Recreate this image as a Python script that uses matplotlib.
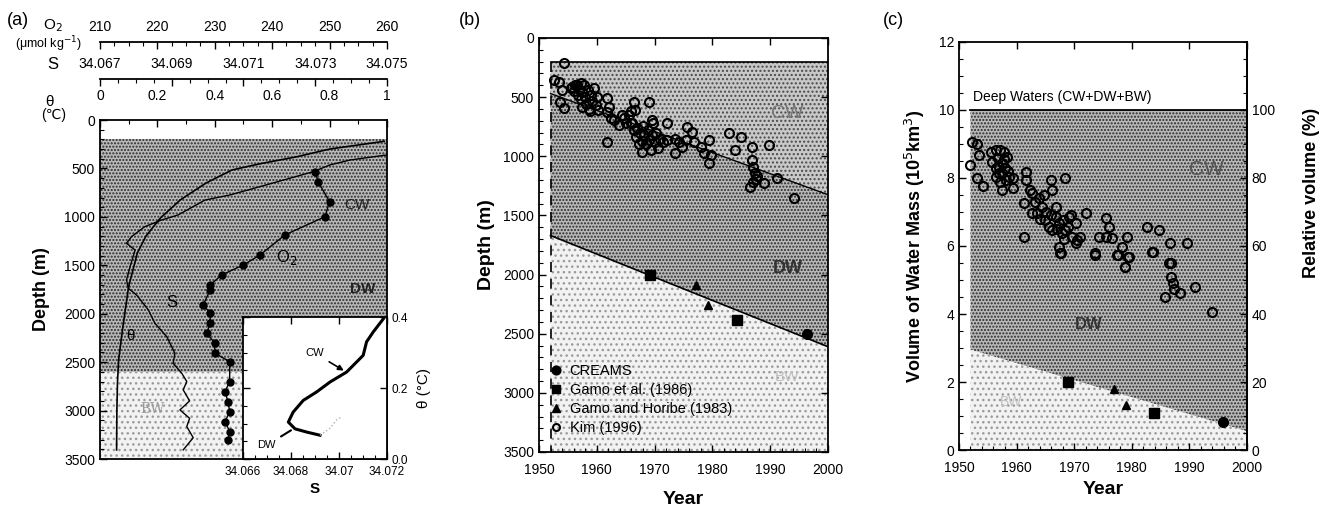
import numpy as np
import matplotlib
matplotlib.use("Agg")
import matplotlib.pyplot as plt
from matplotlib.ticker import MultipleLocator, FixedLocator

plt.rcParams['font.family'] = ['Liberation Sans', 'DejaVu Sans']
plt.rcParams['hatch.linewidth'] = 1.0

# ---------------- data: panel (a) profiles ----------------
theta_depth = [220, 300, 380, 450, 516, 650, 825, 1014, 1200, 1376, 1720, 2133, 2477, 2718, 3000, 3406]
theta_val = [0.99, 0.80, 0.685, 0.56, 0.46, 0.37, 0.28, 0.21, 0.16, 0.13, 0.10, 0.08, 0.065, 0.061, 0.059, 0.058]

sal_depth = [361, 413, 464, 534, 688, 774, 826, 980, 1032, 1101, 1204, 1273, 1342, 1514, 1651,
             1737, 1806, 1961, 2098, 2236, 2408, 2511, 2614, 2700, 2786, 2900, 2993, 3080, 3165, 3280, 3406]
sal_val = [34.07499, 34.07397, 34.07341, 34.07294, 34.07146, 34.07062, 34.06993, 34.06918, 34.06872,
           34.06825, 34.06788, 34.06774, 34.06798, 34.06784, 34.06774, 34.06779, 34.06802, 34.06835,
           34.06853, 34.06886, 34.06909, 34.06904, 34.06928, 34.06942, 34.06932, 34.06950, 34.06923,
           34.06950, 34.06942, 34.06960, 34.06932]

o2_depth = [533, 636, 843, 998, 1187, 1393, 1496, 1600, 1703, 1754, 1909, 1995, 2098, 2201, 2304,
            2408, 2494, 2700, 2804, 2907, 3010, 3114, 3217, 3302]
o2_val = [247.5, 248.0, 250.0, 249.2, 242.2, 237.9, 235.0, 231.2, 229.2, 229.2, 228.0, 229.2, 229.2,
          228.6, 230.0, 230.0, 232.6, 232.6, 231.8, 232.3, 232.6, 231.8, 232.6, 232.3]

# inset theta-S diagram
ts_sal = [34.07185, 34.07143, 34.07115, 34.07101, 34.07032, 34.06963, 34.06907, 34.06851, 34.06809,
          34.06789, 34.06817, 34.06865, 34.06921]
ts_theta = [0.395, 0.358, 0.330, 0.292, 0.245, 0.217, 0.189, 0.165, 0.132, 0.104, 0.085, 0.076, 0.067]
ts_bw_sal = [34.06921, 34.06960, 34.06990, 34.07010]
ts_bw_theta = [0.067, 0.085, 0.110, 0.118]

# ---------------- data: panel (b) ----------------
b_kim_year = [1954.3, 1952.6, 1953.5, 1954.0, 1953.7, 1954.3, 1955.8, 1956.3, 1957.2,
              1955.5, 1956.0, 1956.5, 1956.8, 1957.0, 1957.2, 1957.5, 1957.8, 1958.0, 1958.2,
              1958.5, 1958.7, 1959.0, 1959.2, 1959.5, 1959.8, 1960.0, 1960.3, 1957.5, 1958.8,
              1961.8, 1962.1, 1961.8, 1963.0, 1963.8, 1962.4, 1964.4, 1961.8, 1966.4, 1966.7,
              1969.0, 1966.1, 1965.5, 1964.8, 1965.0, 1966.0,
              1966.0, 1966.5, 1966.8, 1967.0, 1967.3, 1967.5, 1967.8, 1968.0, 1968.2, 1968.5,
              1968.8, 1969.0, 1969.3, 1969.5, 1969.8, 1970.0, 1970.3, 1970.6, 1971.0, 1971.5,
              1967.9, 1969.6, 1972.2, 1972.2, 1973.6, 1974.2, 1974.8, 1973.6, 1975.7, 1976.5,
              1976.8, 1975.4, 1978.0, 1978.5, 1979.4, 1979.7, 1979.4, 1982.9, 1984.9, 1984.0,
              1986.9, 1989.8, 1986.9, 1987.0, 1987.3, 1987.6, 1986.5, 1987.0, 1987.8, 1988.9,
              1991.2, 1994.1]
b_kim_depth = [208, 355, 369, 440, 538, 595, 411, 397, 383,
               420, 450, 400, 480, 430, 520, 460, 400, 500, 560,
               440, 600, 480, 530, 420, 570, 500, 610, 580, 620,
               510, 580, 623, 693, 735, 679, 651, 876, 538, 609,
               538, 721, 650, 680, 720, 620,
               720, 780, 840, 760, 900, 800, 870, 740, 820, 900,
               780, 860, 950, 820, 720, 880, 800, 930, 850, 880,
               961, 693, 721, 862, 850, 880, 920, 975, 750, 792,
               876, 862, 919, 975, 862, 989, 1060, 806, 834, 947,
               919, 905, 1031, 1088, 1140, 1190, 1257, 1220, 1170, 1229,
               1186, 1355]

b_creams_year = [1996.4]
b_creams_depth = [2502]
b_gamo86_year = [1969.2, 1984.3]
b_gamo86_depth = [2003, 2384]
b_gamo83_year = [1977.2, 1979.2]
b_gamo83_depth = [2088, 2257]

b_line_year = [1952, 2000]
b_cw_dw_depth = [470, 1325]
b_dw_bw_depth = [1670, 2610]

# ---------------- data: panel (c) ----------------
c_kim_year = [1952.0, 1952.3, 1953.2, 1953.5, 1953.2, 1954.1, 1955.5,
              1956.4, 1957.2, 1957.8, 1958.4, 1955.8, 1956.9, 1957.5, 1956.4, 1957.2, 1958.7,
              1959.3, 1957.5, 1959.3, 1956.8, 1957.4, 1958.0, 1957.0, 1958.2, 1956.5, 1957.8,
              1958.6, 1961.6, 1961.6, 1961.3, 1962.4, 1961.3, 1962.7, 1963.9, 1965.9, 1966.2,
              1968.5, 1963.6, 1964.5, 1965.0, 1965.6, 1966.2, 1966.8, 1967.4, 1967.9, 1966.8,
              1968.5, 1969.1, 1969.7, 1970.3, 1970.5, 1967.4, 1967.7, 1970.3, 1971.1, 1966.0,
              1967.0, 1968.0, 1969.0, 1968.3, 1969.5, 1965.2, 1964.0, 1963.2, 1962.7, 1964.7,
              1972.0, 1973.7, 1975.5, 1976.0, 1974.3, 1975.5, 1976.6, 1977.5, 1978.4, 1979.2,
              1979.5, 1978.9, 1982.7, 1984.7, 1983.6, 1986.7, 1989.6, 1986.5, 1967.5, 1973.6,
              1977.7, 1979.4, 1978.8, 1983.7, 1986.9, 1986.8, 1987.1, 1987.4, 1985.8, 1988.4,
              1991.0, 1993.9]
c_kim_vol = [8.38, 9.07, 9.00, 8.68, 7.99, 7.75, 8.77,
             8.82, 8.82, 8.77, 8.63, 8.48, 8.33, 8.14, 8.04, 7.89, 8.04,
             7.99, 7.65, 7.70, 8.60, 8.45, 8.30, 8.15, 7.95, 8.30, 8.55,
             8.20, 8.19, 7.94, 6.27, 7.65, 7.25, 6.96, 7.40, 7.94, 7.65,
             7.99, 6.96, 7.16, 6.76, 6.57, 6.47, 6.86, 6.67, 6.37, 7.16,
             6.47, 6.86, 6.27, 6.67, 6.18, 5.98, 5.78, 6.08, 6.27, 6.90,
             6.50, 6.75, 6.55, 6.20, 6.90, 7.00, 6.80, 7.30, 7.55, 7.50,
             6.96, 5.78, 6.81, 6.57, 6.27, 6.27, 6.23, 5.73, 5.98, 6.27,
             5.69, 5.39, 6.57, 6.47, 5.83, 6.08, 6.08, 5.49, 5.78, 5.74,
             5.74, 5.69, 5.39, 5.83, 5.49, 5.10, 4.90, 4.75, 4.51, 4.62,
             4.80, 4.07]

c_creams_year = [1995.8]
c_creams_vol = [0.82]
c_gamo86_year = [1968.9, 1983.9]
c_gamo86_vol = [2.0, 1.09]
c_gamo83_year = [1976.9, 1979.0]
c_gamo83_vol = [1.80, 1.32]

c_line_year = [1952, 2000]
c_bw_vol = [2.95, 0.55]
deep_total = 10.0

# ---------------- styles ----------------
DENSE = dict(facecolor='#b8b8b8', edgecolor='#2a2a2a', hatch='.....', linewidth=0)
MED = dict(facecolor='#c8c8c8', edgecolor='#4a4a4a', hatch='....', linewidth=0)
LIGHT = dict(facecolor='#f2f2f2', edgecolor='#9a9a9a', hatch='...', linewidth=0)


def ticks_in(ax):
    ax.tick_params(which='both', direction='in', labelsize=10)
    ax.tick_params(which='major', length=5, width=1)
    ax.tick_params(which='minor', length=3, width=0.8)


fig = plt.figure(figsize=(13.38, 5.09), dpi=100)

# ================= panel (a) =================
axa = fig.add_axes([0.0747, 0.0982, 0.2145, 0.666])
axa.set_xlim(0, 1)
axa.set_ylim(3500, 0)
axa.fill_between([0, 1], 200, 2600, zorder=0, **DENSE)
axa.fill_between([0, 1], 2600, 3500, zorder=0, **LIGHT)
axa.plot(theta_val, theta_depth, color='black', lw=1.2)
axa.set_ylabel('Depth (m)', fontsize=13, fontweight='bold', labelpad=10)
axa.yaxis.set_major_locator(MultipleLocator(500))
axa.yaxis.set_minor_locator(MultipleLocator(100))
axa.xaxis.set_major_locator(MultipleLocator(0.2))
axa.xaxis.set_minor_locator(MultipleLocator(0.1))
axa.xaxis.set_major_formatter(plt.FuncFormatter(lambda v, p: '%g' % round(v, 1)))
for s in axa.spines.values():
    s.set_linewidth(1.3)

# salinity on its own top axis
axs = axa.twiny()
axs.set_xlim(34.067, 34.075)
axs.spines['top'].set_position(('outward', 29.5))
axs.xaxis.set_major_locator(FixedLocator([34.067, 34.069, 34.071, 34.073, 34.075]))
axs.xaxis.set_minor_locator(MultipleLocator(0.0005))
axs.xaxis.set_major_formatter(plt.FuncFormatter(lambda v, p: '%.3f' % v))
ticks_in(axs)
axs.tick_params(axis='x', pad=6)
for k in ['left', 'right', 'bottom']:
    axs.spines[k].set_visible(False)
axs.spines['top'].set_linewidth(1.3)
axs.plot(sal_val, sal_depth, color='black', lw=1.0)

# oxygen on its own top axis
axo = axa.twiny()
axo.set_xlim(210, 260)
axo.spines['top'].set_position(('outward', 56))
axo.xaxis.set_major_locator(MultipleLocator(10))
axo.xaxis.set_minor_locator(MultipleLocator(2.5))
ticks_in(axo)
axo.tick_params(axis='x', pad=6)
for k in ['left', 'right', 'bottom']:
    axo.spines[k].set_visible(False)
axo.spines['top'].set_linewidth(1.3)
axo.plot(o2_val, o2_depth, color='black', lw=1.0, marker='o', ms=5)

# twiny moves ticks of the main axis to the bottom, so set them after
ticks_in(axa)
axa.tick_params(axis='x', which='both', bottom=False, top=True, labelbottom=False,
                labeltop=True, pad=12)

axa.text(0.09, 2270, 'θ', fontsize=11)
axa.text(0.23, 1930, 'S', fontsize=12)
axa.text(0.615, 1470, 'O$_2$', fontsize=12)
axa.text(0.85, 920, 'CW', fontsize=11, color='#222222')
axa.text(0.87, 1790, 'DW', fontsize=11, fontweight='bold', color='#222222')
axa.text(0.14, 3020, 'BW', fontsize=10, family='serif', color='#9a9a9a')

fig.text(0.005, 0.951, '(a)', fontsize=13)
fig.text(0.032, 0.942, 'O$_2$', fontsize=11)
fig.text(0.011, 0.905, '(μmol kg$^{-1}$)', fontsize=9)
fig.text(0.035, 0.865, 'S', fontsize=12)
fig.text(0.034, 0.792, 'θ', fontsize=11)
fig.text(0.031, 0.766, '(℃)', fontsize=10)

# inset
axi = fig.add_axes([0.1816, 0.0982, 0.1076, 0.279])
axi.set_facecolor('white')
axi.set_xlim(34.066, 34.072)
axi.set_ylim(0, 0.4)
axi.plot(ts_sal, ts_theta, color='black', lw=2.2)
axi.plot(ts_bw_sal, ts_bw_theta, color='#b0b0b0', lw=1.0, ls=':')
axi.xaxis.set_major_locator(FixedLocator([34.066, 34.068, 34.070, 34.072]))
axi.xaxis.set_minor_locator(MultipleLocator(0.0005))
axi.xaxis.set_major_formatter(plt.FuncFormatter(lambda v, p: ('%.3f' % v).rstrip('0')))
axi.yaxis.set_major_locator(MultipleLocator(0.2))
axi.yaxis.set_minor_locator(MultipleLocator(0.05))
ticks_in(axi)
axi.tick_params(labelsize=8.5, top=True, right=True, left=True, labelleft=False, labelright=True)
axi.tick_params(axis='x', pad=5)
axi.yaxis.set_label_position('right')
axi.set_ylabel('θ (°C)', fontsize=11, rotation=90, labelpad=6)
axi.set_xlabel('S', fontsize=11, fontweight='bold', labelpad=3)
axi.annotate('CW', xy=(34.0703, 0.245), xytext=(34.0686, 0.29), fontsize=8,
             arrowprops=dict(arrowstyle='-|>', color='black', lw=1.2))
axi.annotate('DW', xy=(34.0681, 0.085), xytext=(34.0666, 0.03), fontsize=8,
             arrowprops=dict(arrowstyle='-', color='black', lw=1.5))
for s in axi.spines.values():
    s.set_linewidth(1.3)

# ================= panel (b) =================
axb = fig.add_axes([0.4028, 0.112, 0.216, 0.8134])
axb.set_xlim(1950, 2000)
axb.set_ylim(3500, 0)
yrs = np.array(b_line_year, dtype=float)
axb.fill_between(yrs, 200, b_cw_dw_depth, zorder=0, **MED)
axb.fill_between(yrs, b_cw_dw_depth, b_dw_bw_depth, zorder=0, **DENSE)
axb.fill_between(yrs, b_dw_bw_depth, 3500, zorder=0, **LIGHT)
axb.plot(yrs, [200, 200], color='black', lw=1.2)
axb.plot(yrs, b_cw_dw_depth, color='black', lw=1.0)
axb.plot(yrs, b_dw_bw_depth, color='black', lw=1.2)
axb.plot([1952, 1952], [200, 3500], color='black', lw=1.2, ls=(0, (6, 4)))
axb.plot(b_kim_year, b_kim_depth, ls='none', marker='o', ms=6.5, mfc='none', mec='black',
         mew=1.5, label='Kim (1996)', zorder=3)
axb.plot(b_creams_year, b_creams_depth, ls='none', marker='o', ms=7, color='black', label='CREAMS', zorder=4)
axb.plot(b_gamo86_year, b_gamo86_depth, ls='none', marker='s', ms=7, color='black',
         label='Gamo et al. (1986)', zorder=4)
axb.plot(b_gamo83_year, b_gamo83_depth, ls='none', marker='^', ms=6, color='black',
         label='Gamo and Horibe (1983)', zorder=4)
h, l = axb.get_legend_handles_labels()
order = [1, 2, 3, 0]
leg = axb.legend([h[i] for i in order], [l[i] for i in order], loc='lower left',
                 bbox_to_anchor=(0.0, 0.02), frameon=False, fontsize=10.5, handletextpad=0.3,
                 labelspacing=0.35, handlelength=1.2, borderaxespad=0.2, markerscale=0.9)
leg.legend_handles[3].set_markersize(5)
axb.xaxis.set_major_locator(MultipleLocator(10))
axb.xaxis.set_minor_locator(MultipleLocator(2))
axb.yaxis.set_major_locator(MultipleLocator(500))
axb.yaxis.set_minor_locator(MultipleLocator(100))
ticks_in(axb)
axb.tick_params(top=True, right=True)
axb.tick_params(axis='x', pad=8)
axb.set_xlabel('Year', fontsize=14, fontweight='bold', labelpad=10)
axb.set_ylabel('Depth (m)', fontsize=14, fontweight='bold', labelpad=6)
axb.text(1993, 680, 'CW', fontsize=14, color='#777777', ha='center')
axb.text(1993, 1990, 'DW', fontsize=13, fontweight='bold', color='#333333', ha='center')
axb.text(1993, 2900, 'BW', fontsize=11, color='#c0c0c0', ha='center')
for s in axb.spines.values():
    s.set_linewidth(1.3)
fig.text(0.343, 0.951, '(b)', fontsize=13)

# ================= panel (c) =================
axc = fig.add_axes([0.7167, 0.1159, 0.2152, 0.8016])
axc.set_xlim(1950, 2000)
axc.set_ylim(0, 12)
cy = np.array(c_line_year, dtype=float)
axc.fill_between(cy, c_bw_vol, deep_total, zorder=0, **DENSE)
axc.fill_between(cy, 0, c_bw_vol, zorder=0, **LIGHT)
axc.plot(cy, [deep_total, deep_total], color='black', lw=1.3)
axc.plot(c_kim_year, c_kim_vol, ls='none', marker='o', ms=6.5, mfc='none', mec='black', mew=1.5, zorder=3)
axc.plot(c_creams_year, c_creams_vol, ls='none', marker='o', ms=7, color='black', zorder=4)
axc.plot(c_gamo86_year, c_gamo86_vol, ls='none', marker='s', ms=7, color='black', zorder=4)
axc.plot(c_gamo83_year, c_gamo83_vol, ls='none', marker='^', ms=6, color='black', zorder=4)
axc.xaxis.set_major_locator(MultipleLocator(10))
axc.xaxis.set_minor_locator(MultipleLocator(2))
axc.yaxis.set_major_locator(MultipleLocator(2))
axc.yaxis.set_minor_locator(MultipleLocator(0.5))
ticks_in(axc)
axc.tick_params(top=True, right=False)
axc.tick_params(axis='x', pad=8)
axc.set_xlabel('Year', fontsize=14, fontweight='bold', labelpad=4)
axc.set_ylabel('Volume of Water Mass (10$^5$km$^3$)', fontsize=13, fontweight='bold', labelpad=8)
axc.text(1952.5, 10.25, 'Deep Waters (CW+DW+BW)', fontsize=10)
axc.text(1993, 8.1, 'CW', fontsize=15, color='#555555', ha='center')
axc.text(1972.5, 3.55, 'DW', fontsize=12, fontweight='bold', color='#333333', ha='center')
axc.text(1959, 1.3, 'BW', fontsize=10, color='#c0c0c0', ha='center')
for s in axc.spines.values():
    s.set_linewidth(1.3)

axr = axc.twinx()
axr.set_ylim(0, 120)
axr.yaxis.set_major_locator(FixedLocator([0, 20, 40, 60, 80, 100]))
axr.yaxis.set_minor_locator(MultipleLocator(5))
ticks_in(axr)
for k in ['left', 'top', 'bottom']:
    axr.spines[k].set_visible(False)
axr.spines['right'].set_linewidth(1.3)
fig.text(0.980, 0.62, 'Relative volume (%)', fontsize=13, fontweight='bold', rotation=90,
         ha='center', va='center')
fig.text(0.660, 0.951, '(c)', fontsize=13)

fig.savefig('out.png', dpi=100)
